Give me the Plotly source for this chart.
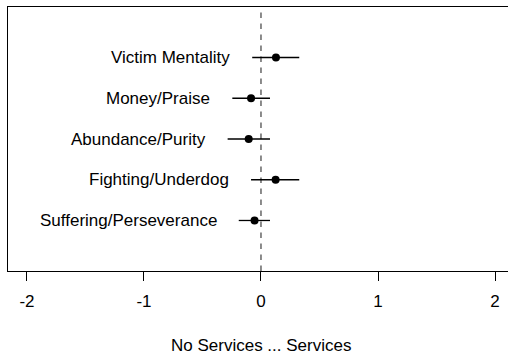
import plotly.graph_objects as go

# Coefficient estimates with 95% intervals for each narrative frame
frames = ["Victim Mentality", "Money/Praise", "Abundance/Purity",
          "Fighting/Underdog", "Suffering/Perseverance"]
rows = [5, 4, 3, 2, 1]
estimate = [0.128, -0.085, -0.105, 0.125, -0.055]
lower = [-0.075, -0.245, -0.285, -0.085, -0.190]
upper = [0.327, 0.077, 0.077, 0.327, 0.077]
x_ticks = [-2, -1, 0, 1, 2]

FONT = "Liberation Sans, Arial, Helvetica, sans-serif"
FS = 17

fig = go.Figure()
fig.add_trace(go.Scatter(
    x=estimate, y=rows, mode="markers",
    marker=dict(color="black", size=8),
    error_x=dict(type="data", symmetric=False,
                 array=[u - e for u, e in zip(upper, estimate)],
                 arrayminus=[e - l for e, l in zip(estimate, lower)],
                 color="black", thickness=1.3, width=0),
    showlegend=False, hoverinfo="skip",
))

# frame names sit to the left of each interval
for name, lo, r in zip(frames, lower, rows):
    fig.add_annotation(x=lo, y=r, xref="x", yref="y", text=name,
                       showarrow=False, xanchor="right", yanchor="middle",
                       xshift=-20, font=dict(family=FONT, size=FS, color="black"))

# reference line at zero
fig.add_shape(type="line", xref="x", yref="paper", x0=0, x1=0, y0=0, y1=1,
              line=dict(color="#666", width=1.5, dash="5.5px,5.5px"), layer="below")

fig.add_annotation(x=0, y=-0.282, xref="x", yref="paper",
                   text="No Services ... Services", showarrow=False,
                   xanchor="center", yanchor="middle",
                   font=dict(family=FONT, size=FS, color="black"))

fig.update_layout(
    width=508, height=356,
    margin=dict(l=8, r=0, t=7, b=85),
    paper_bgcolor="white", plot_bgcolor="white",
    font=dict(family=FONT, size=FS, color="black"),
    xaxis=dict(range=[-2.162, 2.111], tickvals=x_ticks,
               ticktext=[str(v) for v in x_ticks],
               ticks="outside", ticklen=9, tickwidth=1.3, tickcolor="black",
               ticklabelstandoff=5,
               showline=True, mirror=True, linecolor="black", linewidth=1.3,
               showgrid=False, zeroline=False,
               tickfont=dict(family=FONT, size=FS, color="black")),
    yaxis=dict(range=[-0.24, 6.24], showticklabels=False, ticks="",
               showline=True, mirror=False, linecolor="black", linewidth=1.3,
               showgrid=False, zeroline=False),
)

fig.write_html("out.html")
